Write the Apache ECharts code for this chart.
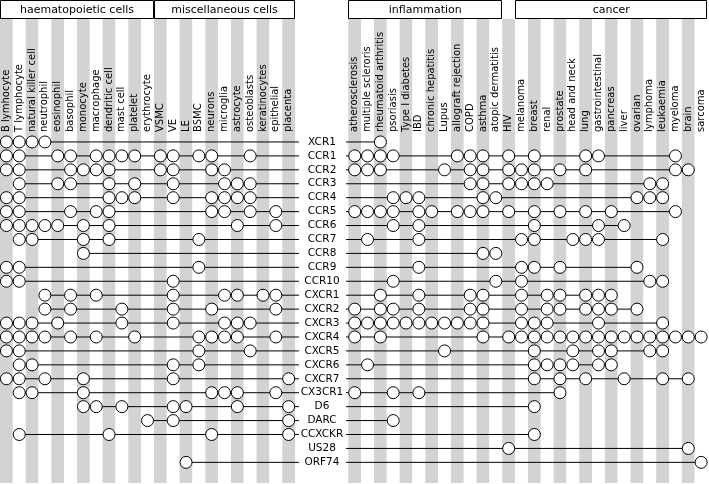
<!DOCTYPE html>
<html>
<head>
<meta charset="utf-8">
<script src="https://cdn.jsdelivr.net/npm/echarts@6/dist/echarts.min.js"></script>
<style>
html,body{margin:0;padding:0;background:#fff;}
#chart{width:709px;height:484px;}
</style>
</head>
<body>
<div id="chart"></div>
<script>
// ---------------- DATA ----------------
const leftColumns = ['B lymhocyte','T lymphocyte','natural killer cell','neutrophil','eosinophil','basophil','monocyte','macrophage','dendritic cell','mast cell','platelet','erythrocyte','VSMC','VE','LE','BSMC','neurons','microglia','astrocyte','osteoblasts','keratinocytes','epithelial','placenta'];
const rightColumns = ['atherosclerosis','multiple scleroris','rheumatoid arthritis','psoriasis','Type I diabetes','IBD','chronic hepatitis','Lupus','allograft rejection','COPD','asthma','atopic dermatitis','HIV','melanoma','breast','renal','prostate','head and neck','lung','gastrointestinal','pancreas','liver','ovarian','lymphoma','leukaemia','myeloma','brain','sarcoma'];
const receptors = ['XCR1','CCR1','CCR2','CCR3','CCR4','CCR5','CCR6','CCR7','CCR8','CCR9','CCR10','CXCR1','CXCR2','CXCR3','CXCR4','CXCR5','CXCR6','CXCR7','CX3CR1','D6','DARC','CCXCKR','US28','ORF74'];

// indices into leftColumns, one list per receptor
const leftHits = [
  [0,1,2,3],
  [0,1,4,5,7,8,9,10,12,13,15,16,19],
  [0,1,5,6,7,8,12,13,16,17],
  [1,4,5,8,10,13,17,18,19],
  [0,1,8,9,10,13,16,17,18,19],
  [0,1,5,7,8,16,17,19,21],
  [0,1,2,3,4,6,8,18,21],
  [1,2,6,8,15],
  [6],
  [0,1,15],
  [0,1,13],
  [3,5,7,13,17,18,20,21],
  [3,5,9,13,16,21],
  [0,1,2,4,9,13,17,18,19],
  [0,1,2,3,5,7,10,15,16,17,18,21],
  [0,1,15,19],
  [1,2,13,15],
  [0,1,3,6,13,22],
  [1,2,6,16,17,18,21],
  [6,7,9,13,14,18,22],
  [11,13,22],
  [1,8,16,22],
  [],
  [14]
];
// indices into rightColumns, one list per receptor
const rightHits = [
  [2],
  [0,1,2,3,8,9,10,12,14,18,19,25],
  [0,1,2,7,9,10,12,13,14,16,18,25,26],
  [9,10,12,13,14,15,23,24],
  [3,4,5,10,11,22,23,24],
  [0,1,2,3,5,6,8,9,10,12,14,16,18,20,25],
  [3,5,14,19,21],
  [1,5,13,14,17,18,19,24],
  [10,11],
  [5,13,14,16,22],
  [3,11,13,23,24],
  [2,5,9,10,13,15,16,18,19,20],
  [0,2,3,5,9,10,13,15,16,18,19,20,22],
  [0,1,2,3,4,5,6,7,8,9,10,13,14,15,19,24],
  [0,2,10,12,13,14,15,16,17,18,19,20,21,22,23,24,25,26,27],
  [7,14,17,19,20,23,24],
  [1,14,15,16,17,19,20],
  [14,16,18,21,24,26],
  [0,3,5,16],
  [14],
  [3],
  [14],
  [12,26],
  [27]
];

const groupNames = ['haematopoietic cells','miscellaneous cells','inflammation','cancer'];
const groupSide  = ['left','left','right','right'];
const groupFirst = ['B lymhocyte','VSMC','atherosclerosis','melanoma'];
const groupLast  = ['erythrocyte','placenta','atopic dermatitis','sarcoma'];

// ---------------- LAYOUT ----------------
const BAND = 12.83;
const FONT = 'DejaVu Sans, Verdana, sans-serif';
const LEFT_MIN = -0.5, LEFT_MAX = leftColumns.length - 0.5 + 0.3;
const RIGHT_MIN = -0.5 - 0.18, RIGHT_MAX = rightColumns.length - 0.5;
const leftStripeLeft = 0, rightStripeLeft = 348.3;
const dataTop = 135, rowH = 13.93;

const chart = echarts.init(document.getElementById('chart'), null, {renderer:'canvas'});

function hiddenValueY(grid){
  return {type:'value', gridIndex:grid, show:false, min:0, max:1};
}
function stripeX(grid, cols){
  return {type:'category', gridIndex:grid, data:cols, boundaryGap:true,
    axisLine:{show:false}, axisTick:{show:false}, axisLabel:{show:false},
    splitLine:{show:false},
    splitArea:{show:true, interval:0, areaStyle:{color:['#d3d3d3','#ffffff']}}};
}
function labelX(grid, cols){
  return {type:'category', gridIndex:grid, data:cols, position:'top', boundaryGap:true,
    axisLine:{show:false}, axisTick:{show:false}, splitLine:{show:false},
    axisLabel:{show:true, interval:0, rotate:90, margin:2, fontSize:10, fontFamily:FONT, color:'#000'}};
}

const grids = [
  {left:leftStripeLeft, top:19, width:leftColumns.length*BAND, bottom:1},
  {left:rightStripeLeft, top:19, width:rightColumns.length*BAND, bottom:1},
  {left:leftStripeLeft, top:134, width:leftColumns.length*BAND, bottom:1},
  {left:rightStripeLeft, top:134, width:rightColumns.length*BAND, bottom:1},
  {left:leftStripeLeft, top:dataTop, width:(LEFT_MAX-LEFT_MIN)*BAND, height:receptors.length*rowH},
  {left:rightStripeLeft + (RIGHT_MIN+0.5)*BAND, top:dataTop, width:(RIGHT_MAX-RIGHT_MIN)*BAND, height:receptors.length*rowH}
];

const xAxes = [
  stripeX(0, leftColumns), stripeX(1, rightColumns),
  labelX(2, leftColumns), labelX(3, rightColumns),
  {type:'value', gridIndex:4, min:LEFT_MIN, max:LEFT_MAX, show:false},
  {type:'value', gridIndex:5, min:RIGHT_MIN, max:RIGHT_MAX, show:false}
];
const yAxes = [
  hiddenValueY(0), hiddenValueY(1), hiddenValueY(2), hiddenValueY(3),
  {type:'category', gridIndex:4, data:receptors, inverse:true, show:false},
  {type:'category', gridIndex:5, data:receptors, inverse:true, position:'left',
    axisLine:{show:false}, axisTick:{show:false}, splitLine:{show:false},
    axisLabel:{show:true, interval:0, align:'center', margin:24, fontSize:10.5, fontFamily:FONT, color:'#000'}}
];

const series = [];
const lineStyle = {color:'#000', width:1};
receptors.forEach(function(name, r){
  if (leftHits[r].length){
    series.push({type:'line', xAxisIndex:4, yAxisIndex:4, silent:true, symbol:'none', z:2,
      lineStyle:lineStyle, data:[[Math.min.apply(null, leftHits[r]), name],[LEFT_MAX, name]]});
  }
  if (rightHits[r].length){
    series.push({type:'line', xAxisIndex:5, yAxisIndex:5, silent:true, symbol:'none', z:2,
      lineStyle:lineStyle, data:[[RIGHT_MIN, name],[Math.max.apply(null, rightHits[r]), name]]});
  }
});
const leftPts = [], rightPts = [];
receptors.forEach(function(name, r){
  leftHits[r].forEach(function(c){ leftPts.push([c, name]); });
  rightHits[r].forEach(function(c){ rightPts.push([c, name]); });
});
const circleStyle = {color:'#fff', borderColor:'#000', borderWidth:1, opacity:1};
series.push({type:'scatter', xAxisIndex:4, yAxisIndex:4, symbol:'circle', symbolSize:12, z:3, silent:true, itemStyle:circleStyle, data:leftPts});
series.push({type:'scatter', xAxisIndex:5, yAxisIndex:5, symbol:'circle', symbolSize:12, z:3, silent:true, itemStyle:circleStyle, data:rightPts});

chart.setOption({
  animation:false,
  backgroundColor:'#fff',
  grid:grids, xAxis:xAxes, yAxis:yAxes, series:series
});

// header boxes positioned from the stripe axes
const graphics = [];
groupNames.forEach(function(g, i){
  const axisIdx = groupSide[i] === 'left' ? 0 : 1;
  const x1 = chart.convertToPixel({xAxisIndex:axisIdx}, groupFirst[i]) - BAND/2;
  const x2 = chart.convertToPixel({xAxisIndex:axisIdx}, groupLast[i]) + BAND/2;
  graphics.push({type:'rect', shape:{x:Math.round(x1)+0.5, y:0.5, width:Math.round(x2-x1)-1, height:18},
    style:{fill:'#fff', stroke:'#000', lineWidth:1}, z:10});
  graphics.push({type:'text', x:(x1+x2)/2, y:10, z:11,
    style:{text:g, fill:'#000', font:'11px ' + FONT, textAlign:'center', textVerticalAlign:'middle'}});
});
chart.setOption({graphic:graphics});
</script>
</body>
</html>
